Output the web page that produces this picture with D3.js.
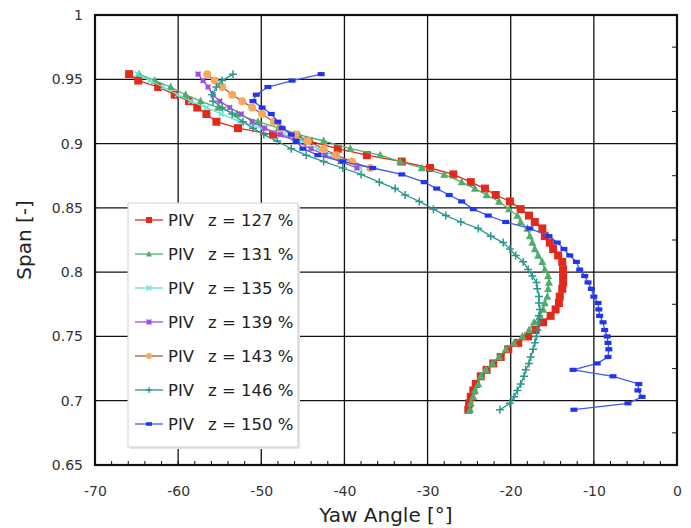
<!DOCTYPE html>
<html>
<head>
<meta charset="utf-8">
<script src="https://cdn.jsdelivr.net/npm/d3@7"></script>
<style>
  body { margin: 0; background: #fff; }
  text { font-family: "DejaVu Sans", Verdana, sans-serif; }
</style>
</head>
<body>
<div id="chart"></div>
<script>
// span positions of the PIV rows (top to bottom)
var span = [0.954, 0.949, 0.944, 0.938, 0.933, 0.928, 0.923, 0.917, 0.912, 0.907,
  0.902, 0.896, 0.891, 0.886, 0.881, 0.876, 0.870, 0.865, 0.860, 0.855,
  0.849, 0.844, 0.839, 0.834, 0.828, 0.823, 0.818, 0.813, 0.808, 0.802,
  0.797, 0.792, 0.787, 0.781, 0.776, 0.771, 0.766, 0.761, 0.755, 0.750,
  0.745, 0.740, 0.734, 0.729, 0.724, 0.719, 0.713, 0.708, 0.703, 0.698, 0.693];

// yaw angle per series
var yaw127 = [-65.9, -64.8, -62.4, -60.4, -58.7, -57.7, -56.6, -55.4, -52.8, -48.6,
  -44.3, -40.8, -37.3, -33.1, -29.7, -26.9, -24.8, -23.1, -21.8, -20.1,
  -18.8, -17.8, -17.1, -16.2, -15.9, -15.3, -14.9, -14.3, -13.8, -13.7,
  -13.7, -13.7, -13.8, -14.1, -14.2, -14.6, -15.2, -16.1, -17.0, -17.9,
  -19.1, -20.3, -21.2, -22.1, -22.9, -23.6, -24.2, -24.5, -24.8, -25.0, -25.1];
var yaw131 = [-64.7, -62.8, -60.9, -59.1, -57.3, -55.2, -52.9, -50.4, -47.9, -45.5,
  -42.5, -39.3, -35.7, -33.3, -30.7, -28.0, -25.9, -24.3, -22.9, -21.4,
  -20.2, -19.2, -18.8, -18.0, -17.7, -17.4, -17.1, -16.7, -16.2, -15.9,
  -15.5, -15.4, -15.5, -15.6, -15.9, -16.1, -16.5, -17.2, -17.8, -18.6,
  -19.6, -20.6, -21.4, -22.2, -23.0, -23.6, -23.9, -24.3, -24.5, -24.8, -24.9];
var yaw135 = [-64.9, -63.4, -61.8, -60.1, -58.5, -56.6, -54.8, -52.6, -49.9, -47.3,
  -45.1, -43.2, -41.4, -39.8, -38.1];
var yaw139 = [-57.6, -57.0, -56.4, -55.8, -55.0, -53.8, -52.4, -51.1, -49.6, -47.7,
  -45.9, -44.0, -42.3, -40.5, -38.5];
var yaw143 = [-56.5, -55.6, -54.7, -53.5, -52.3, -51.1, -49.9, -48.5, -47.6, -45.9,
  -44.4, -42.5, -41.0, -39.1, -36.9];
var yaw146 = [-53.4, -54.7, -55.4, -55.9, -55.8, -54.7, -53.5, -52.2, -51.0, -49.7,
  -48.1, -46.4, -44.6, -42.5, -40.2, -38.0, -35.8, -33.9, -32.7, -31.0,
  -29.3, -27.8, -26.0, -23.9, -22.4, -20.9, -20.1, -19.4, -18.5, -17.9,
  -17.4, -16.9, -16.8, -16.6, -16.6, -16.5, -16.6, -16.7, -16.8, -16.9,
  -17.1, -17.3, -17.6, -17.8, -18.2, -18.4, -18.8, -19.2, -19.6, -20.1, -21.3];
var yaw150 = [-42.8, -46.3, -49.2, -50.6, -51.0, -49.9, -48.8, -48.0, -47.5, -46.4,
  -45.8, -45.0, -43.2, -40.2, -36.6, -33.1, -30.4, -28.9, -27.4, -25.9,
  -24.5, -22.7, -20.6, -17.7, -15.4, -14.4, -13.6, -12.9, -12.1, -11.7,
  -11.1, -10.7, -10.3, -10.0, -9.5, -9.4, -9.3, -8.9, -8.7, -8.4,
  -8.3, -8.2, -8.3, -9.6, -12.5, -7.7, -4.6, -4.7, -4.2, -5.9, -12.4];

var labels = ["z = 127 %", "z = 131 %", "z = 135 %", "z = 139 %", "z = 143 %", "z = 146 %", "z = 150 %"];
var xTicks = [-70, -60, -50, -40, -30, -20, -10, 0];
var yTicks = [0.65, 0.7, 0.75, 0.8, 0.85, 0.9, 0.95, 1];

var series = [
  {yaw: yaw127, line: "#e3281c", fill: "#e3281c", marker: "square", size: 8},
  {yaw: yaw131, line: "#4fae6c", fill: "#4fae6c", marker: "triangle", size: 8},
  {yaw: yaw135, line: "#5fe3d2", fill: "#5fe3d2", marker: "x", size: 5},
  {yaw: yaw139, line: "#9b4fe2", fill: "#9b4fe2", marker: "star", size: 5},
  {yaw: yaw143, line: "#b4553f", fill: "#f6a95c", marker: "circle", size: 8},
  {yaw: yaw146, line: "#2b978d", fill: "#2b978d", marker: "plus", size: 8},
  {yaw: yaw150, line: "#4457f0", fill: "#1f35ef", marker: "rect", size: 7}
];

var svgWidth = 691, svgHeight = 528;
var margin = {top: 15, right: 14, bottom: 63, left: 95};
var width = svgWidth - margin.left - margin.right;
var height = svgHeight - margin.top - margin.bottom;

var svg = d3.select("#chart").append("svg")
  .attr("width", svgWidth)
  .attr("height", svgHeight);

var chartGroup = svg.append("g")
  .attr("transform", `translate(${margin.left}, ${margin.top})`);

var x = d3.scaleLinear().domain([-70, 0]).range([0, width]);
var y = d3.scaleLinear().domain([0.65, 1]).range([height, 0]);

// grid lines
chartGroup.selectAll(".vgrid").data(xTicks.slice(1, -1)).enter().append("line")
  .attr("x1", d => x(d)).attr("x2", d => x(d))
  .attr("y1", 0).attr("y2", height)
  .attr("stroke", "#111").attr("stroke-width", 1.3);
chartGroup.selectAll(".hgrid").data(yTicks.slice(1, -1)).enter().append("line")
  .attr("x1", 0).attr("x2", width)
  .attr("y1", d => y(d)).attr("y2", d => y(d))
  .attr("stroke", "#111").attr("stroke-width", 1.3);

// minor ticks (inside)
chartGroup.selectAll(".xminor").data(d3.range(-70, 0.1, 2)).enter().append("line")
  .attr("x1", d => x(d)).attr("x2", d => x(d))
  .attr("y1", height).attr("y2", height - 4)
  .attr("stroke", "#111").attr("stroke-width", 1);
chartGroup.selectAll(".yminor").data(d3.range(0.675, 1, 0.05)).enter().append("line")
  .attr("x1", width).attr("x2", width - 5)
  .attr("y1", d => y(d)).attr("y2", d => y(d))
  .attr("stroke", "#111").attr("stroke-width", 1);

// axes
var bottomAxis = d3.axisBottom(x).tickValues(xTicks).tickSize(0).tickPadding(21)
  .tickFormat(d => d === 0 ? "0" : "-" + Math.abs(d));
var leftAxis = d3.axisLeft(y).tickValues(yTicks).tickSize(0).tickPadding(12)
  .tickFormat(d => d === 1 ? "1" : String(+d.toFixed(2)));

var gx = chartGroup.append("g").attr("transform", `translate(0, ${height})`).call(bottomAxis);
var gy = chartGroup.append("g").call(leftAxis);
[gx, gy].forEach(function(g) {
  g.select(".domain").remove();
  g.selectAll("text").attr("font-size", "14px").attr("fill", "#333")
    .attr("font-family", "DejaVu Sans, Verdana, sans-serif");
});

// frame
chartGroup.append("rect")
  .attr("x", 0).attr("y", 0).attr("width", width).attr("height", height)
  .attr("fill", "none").attr("stroke", "#111").attr("stroke-width", 2.2);

// marker shapes
function markerPath(type, s) {
  var h = s / 2;
  if (type === "square") return `M${-h},${-h}h${s}v${s}h${-s}Z`;
  if (type === "rect") return `M${-h},${-h * 0.6}h${s}v${s * 0.6}h${-s}Z`;
  if (type === "triangle") return `M0,${-h * 1.1}L${h},${h * 0.8}L${-h},${h * 0.8}Z`;
  if (type === "circle") return `M${-h},0a${h},${h} 0 1,0 ${s},0a${h},${h} 0 1,0 ${-s},0Z`;
  if (type === "plus") return `M${-h},0H${h}M0,${-h}V${h}`;
  if (type === "x") return `M${-h},${-h}L${h},${h}M${h},${-h}L${-h},${h}`;
  if (type === "star") return `M${-h},${-h}L${h},${h}M${h},${-h}L${-h},${h}M${-h},0H${h}M0,${-h}V${h}`;
  return "";
}
function isStroke(type) { return type === "plus" || type === "x" || type === "star"; }

var line = d3.line().x(d => x(d[0])).y(d => y(d[1]));

var plot = chartGroup.append("g");
series.forEach(function(s) {
  var pts = s.yaw.map((v, i) => [v, span[i]]);
  var g = plot.append("g");
  g.append("path").datum(pts)
    .attr("d", line)
    .attr("fill", "none")
    .attr("stroke", s.line)
    .attr("stroke-width", 1.3);
  g.selectAll("path.m").data(pts).enter().append("path")
    .attr("class", "m")
    .attr("transform", d => `translate(${x(d[0])}, ${y(d[1])})`)
    .attr("d", markerPath(s.marker, s.size))
    .attr("fill", isStroke(s.marker) ? "none" : s.fill)
    .attr("stroke", isStroke(s.marker) ? s.fill : "none")
    .attr("stroke-width", 1.5);
});

// legend
var legend = svg.append("g").attr("transform", "translate(128, 203)");
legend.append("rect")
  .attr("x", 2).attr("y", 2).attr("width", 170).attr("height", 244)
  .attr("fill", "#e6e6e6");
legend.append("rect")
  .attr("x", 0).attr("y", 0).attr("width", 170).attr("height", 244)
  .attr("fill", "#fff").attr("stroke", "#cfcfcf").attr("stroke-width", 1);

var items = legend.selectAll(".item").data(series).enter().append("g")
  .attr("transform", (d, i) => `translate(0, ${17 + i * 34})`);
items.append("line")
  .attr("x1", 7).attr("x2", 35).attr("y1", 0).attr("y2", 0)
  .attr("stroke", d => d.line).attr("stroke-width", 1.3);
items.append("path")
  .attr("transform", "translate(21, 0)")
  .attr("d", d => markerPath(d.marker, Math.min(d.size, 6)))
  .attr("fill", d => isStroke(d.marker) ? "none" : d.fill)
  .attr("stroke", d => isStroke(d.marker) ? d.fill : "none")
  .attr("stroke-width", 1.3);
items.append("text")
  .attr("x", 40).attr("y", 6)
  .attr("font-size", "16.5px").attr("fill", "#222")
  .text("PIV");
items.append("text")
  .attr("x", 80).attr("y", 6)
  .attr("font-size", "16.5px").attr("fill", "#222")
  .text((d, i) => labels[i]);

// axis titles
svg.append("text")
  .attr("x", margin.left + width / 2).attr("y", 522)
  .attr("text-anchor", "middle")
  .attr("font-size", "20px").attr("fill", "#222")
  .text("Yaw Angle [°]");
svg.append("text")
  .attr("transform", `translate(31, ${margin.top + height / 2}) rotate(-90)`)
  .attr("text-anchor", "middle")
  .attr("font-size", "20px").attr("fill", "#222")
  .text("Span [-]");
</script>
</body>
</html>
